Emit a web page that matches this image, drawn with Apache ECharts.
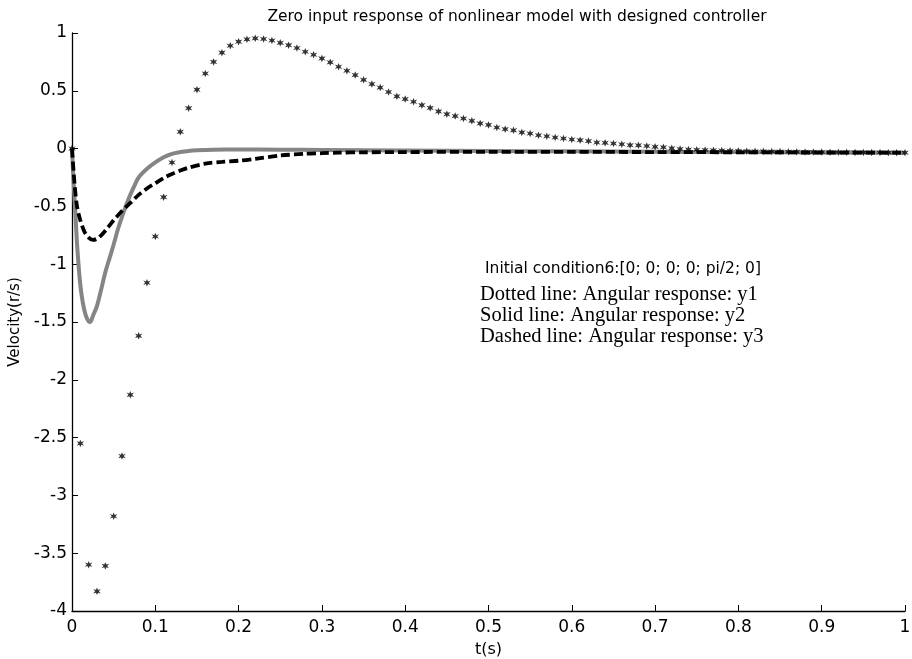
<!DOCTYPE html>
<html>
<head>
<meta charset="utf-8">
<script src="https://cdn.jsdelivr.net/npm/echarts@6/dist/echarts.min.js"></script>
<style>html,body{margin:0;padding:0;background:#fff;}#c{width:912px;height:659px;}</style>
</head>
<body>
<div id="c"></div>
<script>
// ---- data ----
var titleText = 'Zero input response of nonlinear model with designed controller';
var xName = 't(s)';
var yName = 'Velocity(r/s)';
var noteHeader = 'Initial condition6:[0; 0; 0; 0; pi/2; 0]';
var noteLines = ['Dotted line: Angular response: y1', 'Solid line: Angular response: y2', 'Dashed line: Angular response: y3'];

// y1 (dotted, star markers) sampled every 0.01 s
var t1 = [0.00,0.01,0.02,0.03,0.04,0.05,0.06,0.07,0.08,0.09,
          0.10,0.11,0.12,0.13,0.14,0.15,0.16,0.17,0.18,0.19,
          0.20,0.21,0.22,0.23,0.24,0.25,0.26,0.27,0.28,0.29,
          0.30,0.31,0.32,0.33,0.34,0.35,0.36,0.37,0.38,0.39,
          0.40,0.41,0.42,0.43,0.44,0.45,0.46,0.47,0.48,0.49,
          0.50,0.51,0.52,0.53,0.54,0.55,0.56,0.57,0.58,0.59,
          0.60,0.61,0.62,0.63,0.64,0.65,0.66,0.67,0.68,0.69,
          0.70,0.71,0.72,0.73,0.74,0.75,0.76,0.77,0.78,0.79,
          0.80,0.81,0.82,0.83,0.84,0.85,0.86,0.87,0.88,0.89,
          0.90,0.91,0.92,0.93,0.94,0.95,0.96,0.97,0.98,0.99,1.00];
var y1 = [0,-2.55,-3.60,-3.83,-3.61,-3.18,-2.66,-2.13,-1.62,-1.16,
          -0.76,-0.42,-0.12,0.145,0.35,0.51,0.65,0.75,0.83,0.89,
          0.925,0.945,0.954,0.948,0.935,0.915,0.895,0.87,0.838,0.812,
          0.78,0.746,0.708,0.673,0.636,0.595,0.558,0.528,0.49,0.452,
          0.428,0.405,0.376,0.352,0.322,0.298,0.281,0.26,0.24,0.218,
          0.205,0.183,0.168,0.158,0.14,0.131,0.116,0.107,0.096,0.087,
          0.079,0.073,0.065,0.053,0.05,0.044,0.038,0.03,0.028,0.022,
          0.015,0.012,0.002,-0.004,-0.008,-0.01,-0.012,-0.015,-0.017,-0.019,
          -0.02,-0.022,-0.023,-0.024,-0.025,-0.026,-0.027,-0.028,-0.029,-0.03,
          -0.03,-0.031,-0.032,-0.032,-0.033,-0.033,-0.034,-0.034,-0.035,-0.035,-0.035];

// y2 (solid grey)
var t2 = [0,0.002,0.004,0.006,0.008,0.010,0.012,0.014,0.016,0.018,0.020,0.022,
          0.025,0.03,0.035,0.04,0.045,0.05,0.055,0.06,0.065,0.07,0.075,0.08,0.09,
          0.10,0.11,0.12,0.13,0.14,0.15,0.17,0.2,0.25,0.3,0.4,0.5,0.6,0.7,0.8,0.9,1.0];
var y2 = [0,-0.3,-0.55,-0.82,-1.02,-1.18,-1.29,-1.37,-1.43,-1.47,-1.495,-1.50,
          -1.45,-1.36,-1.22,-1.07,-0.95,-0.83,-0.70,-0.59,-0.49,-0.40,-0.32,-0.25,-0.175,
          -0.12,-0.075,-0.045,-0.03,-0.02,-0.015,-0.01,-0.008,-0.01,-0.012,-0.016,-0.02,-0.024,-0.027,-0.03,-0.033,-0.035];

// y3 (dashed black)
var t3 = [0,0.003,0.006,0.01,0.015,0.02,0.025,0.03,0.035,0.04,0.05,0.06,0.07,0.08,0.09,
          0.10,0.11,0.12,0.13,0.14,0.16,0.18,0.2,0.22,0.25,0.28,0.3,0.32,0.35,0.4,0.5,0.6,0.7,0.8,0.9,1.0];
var y3 = [0,-0.3,-0.5,-0.62,-0.72,-0.77,-0.79,-0.78,-0.75,-0.71,-0.62,-0.54,-0.47,-0.40,-0.345,
          -0.30,-0.255,-0.22,-0.19,-0.165,-0.13,-0.115,-0.105,-0.088,-0.06,-0.045,-0.04,-0.035,-0.032,-0.03,-0.028,-0.028,-0.03,-0.032,-0.034,-0.035];

// tick settings
var xMin = 0, xMax = 1, xStep = 0.1;
var yMin = -4, yMax = 1, yStep = 0.5;

function pairs(t, y){ var o=[]; for (var i=0;i<t.length;i++) o.push([t[i], y[i]]); return o; }

var SANS = '"DejaVu Sans", "Liberation Sans", Arial, sans-serif';
var SERIF = '"Liberation Serif", "Times New Roman", serif';
var starPath = 'path://M0,-10L2.5,-3.5L9,-6L4.5,0L9,6L2.5,3.5L0,10L-2.5,3.5L-9,6L-4.5,0L-9,-6L-2.5,-3.5Z';

var chart = echarts.init(document.getElementById('c'), null, {renderer:'canvas'});
chart.setOption({
  backgroundColor: '#fff',
  animation: false,
  title: {
    text: titleText, left: 512, top: 4, textAlign: 'center',
    textStyle: {fontFamily: SANS, fontSize: 15.5, fontWeight: 'normal', color: '#000'}
  },
  grid: {left: 72, right: 7, top: 33, bottom: 48, containLabel: false, outerBoundsMode: 'none'},
  xAxis: {
    type: 'value', min: xMin, max: xMax, interval: xStep,
    name: xName, nameLocation: 'middle', nameGap: 31,
    nameTextStyle: {fontFamily: SANS, fontSize: 16, color: '#000'},
    axisLine: {show: true, onZero: false, lineStyle: {color: '#000', width: 1.3}},
    axisTick: {show: true, inside: true, length: 6, lineStyle: {color: '#000'}},
    axisLabel: {fontFamily: SANS, fontSize: 17, color: '#000', margin: 8},
    splitLine: {show: false}
  },
  yAxis: {
    type: 'value', min: yMin, max: yMax, interval: yStep,
    name: yName, nameLocation: 'middle', nameGap: 44,
    nameTextStyle: {fontFamily: SANS, fontSize: 15, color: '#000'},
    axisLine: {show: true, onZero: false, lineStyle: {color: '#000', width: 1.3}},
    axisTick: {show: true, inside: true, length: 6, lineStyle: {color: '#000'}},
    axisLabel: {fontFamily: SANS, fontSize: 17, color: '#000', margin: 5},
    splitLine: {show: false}
  },
  series: [
    {
      type: 'line', name: 'y2', data: pairs(t2, y2), smooth: 0.3, showSymbol: false,
      lineStyle: {color: '#858585', width: 4}, z: 2
    },
    {
      type: 'line', name: 'y3', data: pairs(t3, y3), smooth: 0.3, showSymbol: false,
      lineStyle: {color: '#000', width: 3.8, type: [9, 4]}, z: 3
    },
    {
      type: 'scatter', name: 'y1', data: pairs(t1, y1), symbol: starPath, symbolSize: 7.5,
      itemStyle: {color: '#000'}, z: 4
    }
  ],
  graphic: [
    {type: 'text', left: 485, top: 261, style: {text: noteHeader, font: '15.5px ' + SANS, fill: '#000'}},
    {type: 'text', left: 480, top: 284, style: {text: noteLines[0], font: '20.5px ' + SERIF, fill: '#000'}},
    {type: 'text', left: 480, top: 305, style: {text: noteLines[1], font: '20.5px ' + SERIF, fill: '#000'}},
    {type: 'text', left: 480, top: 326, style: {text: noteLines[2], font: '20.5px ' + SERIF, fill: '#000'}}
  ]
});
</script>
</body>
</html>
